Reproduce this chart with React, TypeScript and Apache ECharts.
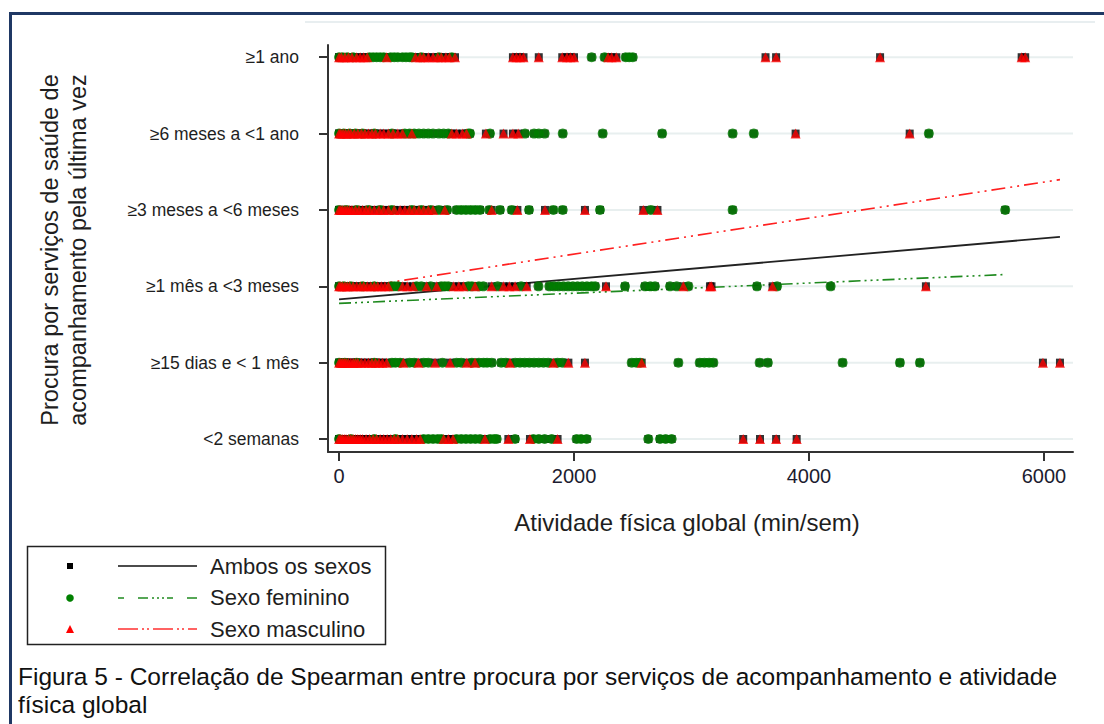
import React, { useEffect, useRef } from "react";
import * as echarts from "echarts";

// ---------- DATA ----------
const catLabels = [
  "<2 semanas",
  "≥15 dias e < 1 mês",
  "≥1 mês a <3 meses",
  "≥3 meses a <6 meses",
  "≥6 meses a <1 ano",
  "≥1 ano",
];
const xTicks = [0, 2000, 4000, 6000];

// Sexo feminino (x values per category, bottom -> top)
const femMenos2Sem = [0, 100, 300, 480, 720, 760, 800, 840, 870, 1000, 1040, 1080, 1120, 1160, 1200, 1285, 1320, 1342, 1498, 1654, 1700, 1750, 1810, 2022, 2060, 2108, 2632, 2732, 2780, 2831];
const fem15Dias = [0, 50, 150, 300, 450, 480, 520, 600, 640, 720, 760, 880, 1000, 1040, 1130, 1190, 1230, 1260, 1300, 1380, 1420, 1500, 1540, 1580, 1620, 1660, 1700, 1740, 1780, 1860, 1900, 2491, 2530, 2562, 2888, 3070, 3110, 3150, 3186, 3580, 3650, 4286, 4774, 4944];
const fem1Mes = [0, 40, 100, 200, 300, 440, 470, 500, 660, 700, 780, 870, 900, 930, 1100, 1130, 1190, 1228, 1350, 1550, 1697, 1790, 1830, 1870, 1910, 1950, 1990, 2030, 2070, 2110, 2150, 2180, 2434, 2604, 2650, 2689, 2817, 2874, 2973, 3557, 3728, 4184];
const fem3Meses = [0, 60, 150, 250, 350, 450, 620, 700, 780, 850, 920, 1000, 1040, 1080, 1120, 1160, 1200, 1280, 1370, 1470, 1617, 1824, 1904, 2221, 2653, 3350, 5670];
const fem6Meses = [0, 40, 90, 140, 200, 300, 450, 560, 600, 640, 680, 720, 760, 800, 850, 890, 930, 1100, 1115, 1285, 1583, 1660, 1700, 1750, 1904, 2244, 2750, 3350, 3530, 5020];
const fem1Ano = [0, 30, 70, 120, 260, 290, 320, 350, 380, 440, 470, 500, 540, 570, 600, 620, 700, 850, 960, 2150, 2260, 2440, 2470, 2500];

// Sexo masculino
const mascMenos2Sem = [0, 15, 30, 45, 60, 80, 100, 120, 140, 160, 180, 200, 230, 260, 290, 320, 350, 380, 410, 440, 470, 500, 540, 580, 620, 660, 690, 890, 930, 970, 1242, 1441, 1625, 1860, 3440, 3583, 3720, 3895];
const masc15Dias = [0, 15, 30, 45, 60, 80, 100, 120, 140, 160, 190, 220, 250, 280, 310, 340, 370, 405, 547, 675, 817, 945, 1087, 1157, 1455, 1824, 1952, 2093, 2576, 5991, 6136];
const masc1Mes = [0, 15, 30, 50, 70, 90, 120, 150, 180, 210, 240, 270, 300, 330, 360, 390, 420, 540, 580, 630, 746, 831, 975, 1020, 1058, 1157, 1299, 1400, 1450, 1498, 1597, 2272, 2931, 3157, 3170, 3690, 4995];
const masc3Meses = [0, 15, 30, 50, 70, 90, 110, 140, 170, 200, 230, 260, 300, 340, 380, 420, 470, 520, 560, 600, 640, 680, 720, 760, 800, 900, 1299, 1518, 1753, 2093, 2590, 2710];
const masc6Meses = [0, 15, 35, 55, 80, 100, 130, 160, 190, 220, 250, 280, 310, 350, 380, 420, 460, 500, 540, 620, 960, 1000, 1050, 1085, 1250, 1400, 1480, 1525, 3886, 4857];
const masc1Ano = [0, 20, 50, 80, 110, 150, 180, 210, 240, 405, 650, 690, 720, 760, 800, 840, 870, 910, 940, 987, 1480, 1510, 1540, 1570, 1700, 1900, 1940, 1970, 2000, 2290, 2320, 2360, 3630, 3720, 4605, 5810, 5840];

// Fitted lines (x, y) end points
const fitAmbos = [[0, 2.83], [6136, 3.647]];
const fitFeminino = [[0, 2.776], [5670, 3.154]];
const fitMasculino = [[0, 2.95], [6136, 4.397]];

const legendNames = ["Ambos os sexos", "Sexo feminino", "Sexo masculino"];

// ---------- BUILD ----------
const X_MIN = -94;
const X_MAX = 6247;
const femLists = [femMenos2Sem, fem15Dias, fem1Mes, fem3Meses, fem6Meses, fem1Ano];
const mascLists = [mascMenos2Sem, masc15Dias, masc1Mes, masc3Meses, masc6Meses, masc1Ano];
const femData = femLists.flatMap((l, i) => l.map((x) => [x, i + 1]));
const mascData = mascLists.flatMap((l, i) => l.map((x) => [x, i + 1]));
const ambosData = [...femData, ...mascData];

const FONT = "'Liberation Sans', Arial, sans-serif";
const TXT = "#1e1e1e";

function buildOption(): any {
  const gridSeries = catLabels.map((_, i) => ({
    type: "line",
    name: "grid" + i,
    data: [
      [X_MIN + 50, i + 1],
      [X_MAX, i + 1],
    ],
    symbol: "none",
    silent: true,
    z: 1,
    lineStyle: { color: "#e8efef", width: 2, type: "solid" },
  }));
  return {
    animation: false,
    backgroundColor: "#ffffff",
    grid: { left: 328, right: 31, top: 45, bottom: 272, containLabel: false, outerBoundsMode: "none" },
    xAxis: {
      type: "value",
      min: X_MIN,
      max: X_MAX,
      axisLine: { show: true, onZero: false, lineStyle: { color: "#333", width: 2 } },
      axisTick: { show: true, length: 9, customValues: xTicks, lineStyle: { color: "#333", width: 2 } },
      axisLabel: {
        customValues: xTicks,
        formatter: (v: number) => String(Math.round(v)),
        fontSize: 20,
        color: "#1c1c30",
        fontFamily: FONT,
        margin: 14,
      },
      splitLine: { show: false },
    },
    yAxis: {
      type: "value",
      min: 0.83,
      max: 6.16,
      axisLine: { show: true, onZero: false, lineStyle: { color: "#333", width: 2 } },
      axisTick: { show: true, length: 9, customValues: [1, 2, 3, 4, 5, 6], lineStyle: { color: "#333", width: 2 } },
      axisLabel: {
        customValues: [1, 2, 3, 4, 5, 6],
        formatter: (v: number) => catLabels[Math.round(v) - 1] ?? "",
        fontSize: 17.5,
        color: TXT,
        fontFamily: FONT,
        margin: 29,
      },
      splitLine: { show: false },
    },
    series: [
      ...gridSeries,
      {
        type: "line",
        name: legendNames[0] + " fit",
        data: fitAmbos,
        symbol: "none",
        z: 2,
        lineStyle: { color: "#222", width: 1.8, type: "solid" },
      },
      {
        type: "line",
        name: legendNames[1] + " fit",
        data: fitFeminino,
        symbol: "none",
        z: 2,
        lineStyle: { color: "#1f8a1f", width: 1.6, type: [12, 4, 2, 4, 2, 4, 2, 4] },
      },
      {
        type: "line",
        name: legendNames[2] + " fit",
        data: fitMasculino,
        symbol: "none",
        z: 2,
        lineStyle: { color: "#ff2020", width: 1.6, type: [14, 5, 2, 5, 2, 5] },
      },
      {
        type: "scatter",
        name: legendNames[0],
        data: ambosData,
        symbol: "rect",
        symbolSize: 8,
        z: 3,
        itemStyle: { color: "#000000" },
      },
      {
        type: "scatter",
        name: legendNames[1],
        data: femData,
        symbol: "circle",
        symbolSize: 10,
        z: 4,
        itemStyle: { color: "#008000" },
      },
      {
        type: "scatter",
        name: legendNames[2],
        data: mascData,
        symbol: "triangle",
        symbolSize: 10,
        z: 5,
        itemStyle: { color: "#ff0000" },
      },
    ],
    graphic: [
      // outer frame
      { type: "line", shape: { x1: 10.5, y1: 13.5, x2: 1110, y2: 13.5 }, style: { stroke: "#1f3864", lineWidth: 3 } },
      { type: "line", shape: { x1: 10.5, y1: 12, x2: 10.5, y2: 730 }, style: { stroke: "#1f3864", lineWidth: 3 } },
      // faint region top
      { type: "line", shape: { x1: 305, y1: 22, x2: 1095, y2: 22 }, style: { stroke: "#e8eef0", lineWidth: 2 } },
      // y axis name
      {
        type: "text",
        x: 64,
        y: 250,
        rotation: Math.PI / 2,
        style: {
          text: "Procura por serviços de saúde de\nacompanhamento pela última vez",
          fontSize: 23.5,
          fontFamily: FONT,
          fill: TXT,
          align: "center",
          verticalAlign: "middle",
          lineHeight: 28,
        },
      },
      // x axis name
      {
        type: "text",
        x: 687,
        y: 522,
        style: {
          text: "Atividade física global (min/sem)",
          fontSize: 24,
          fontFamily: FONT,
          fill: TXT,
          align: "center",
          verticalAlign: "middle",
        },
      },
      // legend box
      { type: "rect", shape: { x: 27.5, y: 546.5, width: 358, height: 98 }, style: { fill: "#fff", stroke: "#222", lineWidth: 1.5 } },
      { type: "rect", shape: { x: 67, y: 563, width: 6, height: 6 }, style: { fill: "#000" } },
      { type: "circle", shape: { cx: 70, cy: 598, r: 3.8 }, style: { fill: "#008000" } },
      { type: "polygon", shape: { points: [[70, 625], [74, 633], [66, 633]] }, style: { fill: "#ff0000" } },
      { type: "line", shape: { x1: 118, y1: 566, x2: 197, y2: 566 }, style: { stroke: "#111", lineWidth: 1.6 } },
      { type: "line", shape: { x1: 118, y1: 598, x2: 197, y2: 598 }, style: { stroke: "#1f8a1f", lineWidth: 1.6, lineDash: [6, 14, 10, 4, 2, 3, 2, 3, 2, 3] } },
      { type: "line", shape: { x1: 118, y1: 629, x2: 197, y2: 629 }, style: { stroke: "#ff3030", lineWidth: 1.6, lineDash: [20, 4, 2, 3, 2, 4] } },
      ...legendNames.map((n, i) => ({
        type: "text",
        x: 210,
        y: 566 + i * 31.5,
        style: { text: n, fontSize: 22, fontFamily: FONT, fill: TXT, align: "left", verticalAlign: "middle" },
      })),
      // caption
      {
        type: "text",
        x: 18,
        y: 676,
        style: {
          text: "Figura 5 - Correlação de Spearman entre procura por serviços de acompanhamento e atividade",
          fontSize: 24.5,
          fontFamily: FONT,
          fill: "#111",
          align: "left",
          verticalAlign: "middle",
        },
      },
      {
        type: "text",
        x: 18,
        y: 704,
        style: { text: "física global", fontSize: 24.5, fontFamily: FONT, fill: "#111", align: "left", verticalAlign: "middle" },
      },
    ],
  };
}

export default function App() {
  const ref = useRef<HTMLDivElement>(null);
  useEffect(() => {
    if (!ref.current) return;
    const chart = echarts.init(ref.current, null, { renderer: "svg" });
    chart.setOption(buildOption());
    return () => chart.dispose();
  }, []);
  return (
    <div
      ref={ref}
      style={{ position: "fixed", left: 0, top: 0, width: 1104, height: 724, background: "#fff" }}
    />
  );
}
